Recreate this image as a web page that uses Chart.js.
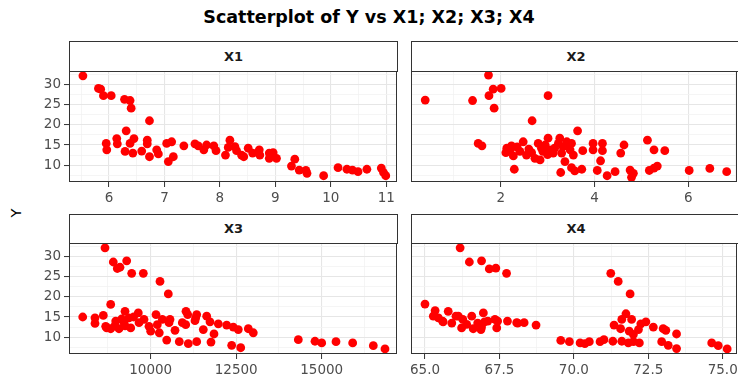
<!DOCTYPE html>
<html><head><meta charset="utf-8">
<script src="https://cdn.jsdelivr.net/npm/chart.js@4"></script>
<style>
html,body{margin:0;padding:0;background:#fff;overflow:hidden;width:738px;height:378px;}
#wrap{position:relative;width:738px;height:378px;overflow:hidden;}
canvas{position:absolute;}
.strip{position:absolute;box-sizing:border-box;border:1px solid #333;background:#fff;font:bold 13px "DejaVu Sans";color:#1a1a1a;text-align:center;}
#title{position:absolute;left:0;width:738px;top:7px;line-height:22px;text-align:center;font:bold 17.5px "DejaVu Sans";color:#000;}
#ylab{position:absolute;left:-2px;top:203px;width:40px;height:20px;line-height:20px;text-align:center;font:14.5px "DejaVu Sans";color:#000;transform:rotate(-90deg);}
</style></head>
<body><div id="wrap">
<div id="title">Scatterplot of Y vs X1; X2; X3; X4</div>
<div id="ylab">Y</div>
<div class="strip" id="s1" style="left:69px;top:41px;width:329px;height:31px;line-height:29px;">X1</div>
<div class="strip" id="s2" style="left:411px;top:41px;width:330px;height:31px;line-height:29px;">X2</div>
<div class="strip" id="s3" style="left:69px;top:214px;width:329px;height:30px;line-height:28px;">X3</div>
<div class="strip" id="s4" style="left:411px;top:214px;width:330px;height:30px;line-height:28px;">X4</div>
<canvas id="c1" width="400" height="136" style="left:0;top:71px;"></canvas>
<canvas id="c2" width="338" height="136" style="left:400px;top:71px;"></canvas>
<canvas id="c3" width="400" height="135" style="left:0;top:243px;"></canvas>
<canvas id="c4" width="338" height="135" style="left:400px;top:243px;"></canvas>
</div>
<script>
// ---- data ----
const panelNames = ["X1", "X2", "X3", "X4"];

const x1Vals = [5.53,5.81,5.85,5.90,6.04,6.28,6.38,6.40,6.73,6.31,5.95,5.96,6.14,6.15,6.29,6.38,6.45,6.43,6.59,6.69,6.69,6.73,6.86,6.89,7.04,7.13,7.07,7.16,7.35,7.55,7.61,7.71,7.76,7.89,7.93,8.18,8.15,8.10,8.27,8.30,8.39,8.43,8.51,8.59,8.71,8.72,8.89,8.96,8.89,9.02,9.35,9.29,9.43,9.55,9.57,9.87,10.13,10.29,10.39,10.49,10.65,10.91,10.95,10.99];
const y1Vals = [32.1,29.0,28.8,27.2,27.2,26.3,26.0,24.1,21.0,18.5,15.4,13.8,16.6,15.3,13.4,15.4,16.6,13.0,13.5,16.2,15.3,12.1,13.8,12.8,15.4,15.8,10.9,12.1,14.8,15.3,14.8,13.8,15.0,14.8,13.6,16.2,14.4,12.5,14.6,13.6,12.5,12.1,14.2,13.0,13.8,12.5,13.0,13.1,11.7,11.7,11.5,9.8,8.8,8.7,8.0,7.4,9.4,9.0,8.8,8.4,9.0,9.3,8.2,7.4];

const x2Vals = [0.39,1.40,1.74,1.84,2.01,1.75,1.86,3.01,2.67,3.64,1.52,1.60,5.13,5.27,5.50,4.63,4.56,3.97,4.17,3.97,4.17,4.13,3.75,2.29,3.28,3.51,3.58,3.73,4.06,4.27,4.44,4.76,4.83,4.79,5.17,5.27,5.34,6.02,6.46,6.82,
  2.13,2.11,2.23,2.27,2.48,2.41,2.55,2.66,2.73,2.84,2.80,2.87,3.01,3.05,3.12,3.23,3.26,3.33,3.30,3.41,3.48,3.37,3.51,3.55,2.35,2.60,2.90,3.15,3.00,2.20,3.45,2.95];
const y2Vals = [26.1,26.0,32.3,28.8,29.0,27.2,24.1,27.2,21.0,18.5,15.4,14.8,16.2,13.8,13.6,15.0,13.0,15.4,15.4,13.8,13.6,11.1,13.6,9.0,8.2,9.4,8.6,9.0,8.7,7.4,8.4,8.8,8.0,7.0,8.7,9.3,9.8,8.7,9.2,8.4,
  14.2,13.1,14.8,12.3,15.8,13.4,12.5,13.1,11.7,11.3,15.4,14.2,16.7,13.8,13.0,15.4,16.7,14.6,13.0,15.8,13.8,10.9,15.4,12.5,14.5,14.0,13.4,14.2,12.6,13.8,14.6,15.0];

const x3Vals = [8664,8906,9298,9023,9102,9444,9784,10272,10515,8830,8012,8371,8371,8614,8713,9249,9637,10155,11032,11082,10564,10711,10251,10468,10836,11099,11345,11763,11851,11538,11345,11637,11295,11734,11977,12222,12415,12561,12854,13000,12368,12632,14316,14804,15000,15418,15906,16509,16851,
  8684,8830,8977,9073,9219,9365,9415,9658,9804,9950,10000,10193,10339,10535,10924,11023,11316,9150,9500,9250,8950];
const y3Vals = [32.1,28.6,28.9,27.0,27.3,25.8,25.8,23.8,20.7,18.1,15.0,14.8,13.4,15.4,12.3,16.4,16.0,15.6,16.4,15.6,14.4,11.7,11.1,9.3,8.9,8.4,8.9,8.8,10.8,11.9,15.6,15.2,14.1,13.8,13.3,13.0,12.5,11.9,12.1,11.1,8.0,7.4,9.4,9.0,8.6,8.9,8.6,7.9,7.1,
  12.7,12.1,14.0,12.1,13.6,14.8,12.3,13.6,14.4,12.7,11.5,13.1,14.4,13.6,13.6,13.1,14.8,14.5,15.0,12.8,12.8];

const x4Vals = [66.18,66.49,66.90,67.16,67.38,67.74,71.24,71.49,71.89,65.00,65.34,65.28,65.61,65.78,65.90,66.12,66.23,66.57,66.62,66.96,66.90,67.35,67.41,67.77,68.08,68.33,68.73,69.56,69.85,70.21,70.37,70.52,70.88,71.01,71.31,71.61,71.83,72.00,72.20,71.35,71.61,71.75,71.94,71.57,71.86,72.00,72.17,72.25,72.42,72.67,73.00,73.09,73.45,72.95,73.17,73.45,74.63,74.85,75.15,
  65.59,66.04,66.27,66.77,66.88,67.11,67.44,68.11,65.45,66.40,67.00];
const y4Vals = [32.1,28.6,28.9,26.9,27.1,25.8,25.8,23.8,20.7,18.2,16.6,15.2,13.8,16.4,13.5,15.2,12.3,15.2,12.1,16.0,12.5,14.4,12.3,14.0,13.6,13.6,13.0,9.2,8.9,8.6,8.4,8.9,8.9,9.4,9.0,9.0,8.6,8.9,8.6,13.0,14.4,15.8,14.4,12.1,11.5,10.7,11.9,13.3,13.8,12.5,12.1,11.7,10.8,8.9,8.0,7.2,8.6,7.9,7.1,
  14.0,15.2,14.4,13.5,11.9,14.0,14.0,13.5,14.8,13.2,13.8];

// tick labels (major) and minor grid positions
const yMajor = [10, 15, 20, 25, 30];
const yMinor = [7.5, 12.5, 17.5, 22.5, 27.5, 32.5];
const x1Major = [6, 7, 8, 9, 10, 11];
const x1Minor = [5.5, 6.5, 7.5, 8.5, 9.5, 10.5];
const x2Major = [2, 4, 6];
const x2Minor = [1, 3, 5, 7];
const x3Major = [10000, 12500, 15000];
const x3Minor = [8750, 11250, 13750, 16250];
const x4Major = [65.0, 67.5, 70.0, 72.5, 75.0];
const x4Minor = [66.25, 68.75, 71.25, 73.75];

// ---- rendering ----
const FONT = "DejaVu Sans";
const boxPlugin = {
  id: 'panelBox',
  afterDraw(chart) {
    const a = chart.chartArea, c = chart.ctx;
    c.save();
    c.strokeStyle = '#333333';
    c.lineWidth = 1;
    c.strokeRect(a.left + 0.5, a.top + 0.5, a.right - a.left - 1, a.bottom - a.top - 1);
    c.restore();
  }
};

function axis(major, minor, opts) {
  const all = major.concat(minor).sort((a, b) => a - b);
  const isMajor = v => major.some(m => Math.abs(m - v) < 1e-9);
  return {
    type: 'linear',
    position: opts.position,
    min: opts.min, max: opts.max,
    border: { display: false },
    afterBuildTicks: s => { s.ticks = all.map(v => ({ value: v })); },
    afterFit: s => {
      if (opts.position === 'left') s.width = opts.size; else s.height = opts.size;
      s.paddingTop = 0; s.paddingBottom = 0; s.paddingLeft = 0; s.paddingRight = 0;
    },
    grid: {
      color: ctx => (ctx.tick && isMajor(ctx.tick.value)) ? '#E6E6E6' : '#F3F3F3',
      lineWidth: ctx => (ctx.tick && isMajor(ctx.tick.value)) ? 1.1 : 0.8,
      drawTicks: opts.showTicks,
      tickLength: 5,
      tickWidth: 1,
      tickColor: ctx => (ctx.tick && isMajor(ctx.tick.value)) ? '#333333' : 'rgba(0,0,0,0)'
    },
    ticks: {
      display: opts.showTicks,
      autoSkip: false, maxRotation: 0, minRotation: 0,
      padding: opts.pad,
      color: '#4D4D4D',
      font: { family: FONT, size: 13.5 },
      callback: v => isMajor(v) ? opts.fmt(v) : ''
    }
  };
}

function makePanel(id, xs, ys, xMajor, xMinor, xmin, xmax, fmt, showY, rightPad, yAxisW, xAxisH) {
  const pts = xs.map((x, i) => ({ x: x, y: ys[i] }));
  new Chart(document.getElementById(id), {
    type: 'scatter',
    data: { datasets: [{ data: pts, backgroundColor: '#FF0000', borderWidth: 0, pointRadius: 4.4, pointHoverRadius: 4.4 }] },
    options: {
      responsive: false, animation: false, devicePixelRatio: 1,
      layout: { padding: { left: 0, right: rightPad, top: 0, bottom: 0 }, autoPadding: false },
      plugins: { legend: { display: false }, tooltip: { enabled: false }, title: { display: false } },
      scales: {
        x: axis(xMajor, xMinor, { position: 'bottom', min: xmin, max: xmax, size: xAxisH, showTicks: true, pad: 3, fmt: fmt }),
        y: axis(yMajor, yMinor, { position: 'left', min: 5.85, max: 33.3, size: yAxisW, showTicks: showY, pad: 3, fmt: v => String(v) })
      }
    },
    plugins: [boxPlugin]
  });
}

makePanel('c1', x1Vals, y1Vals, x1Major, x1Minor, 5.279, 11.193, v => String(v), true, 3, 69, 25);
makePanel('c2', x2Vals, y2Vals, x2Major, x2Minor, 0.087, 7.04, v => String(v), false, 1, 11, 25);
makePanel('c3', x3Vals, y3Vals, x3Major, x3Minor, 7611, 17202, v => String(v), true, 3, 69, 24);
makePanel('c4', x4Vals, y4Vals, x4Major, x4Minor, 64.53, 75.48, v => v.toFixed(1), false, 1, 11, 24);
</script>
</body></html>
